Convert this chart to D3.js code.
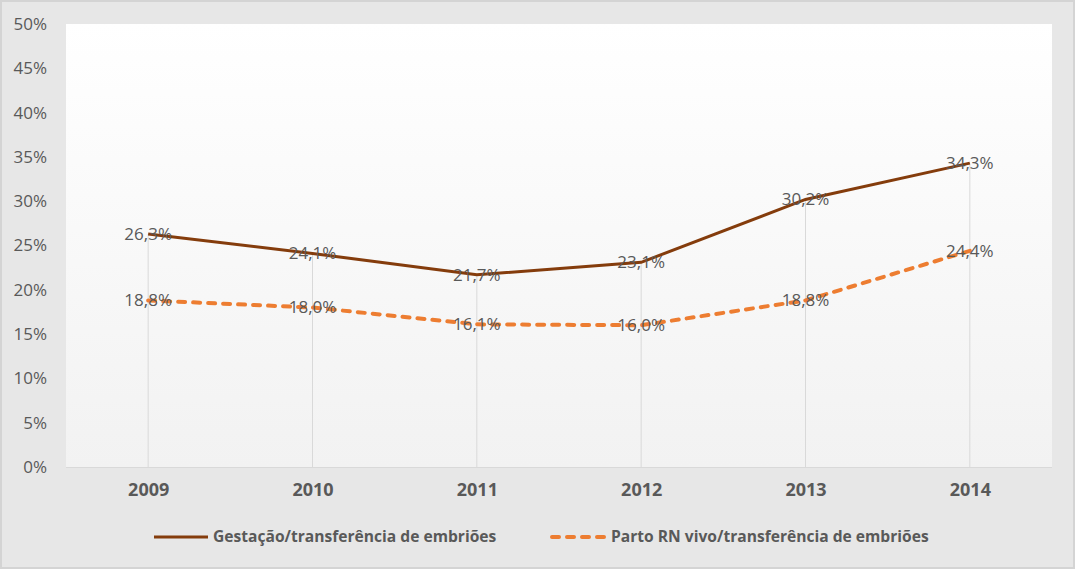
<!DOCTYPE html>
<html><head><meta charset="utf-8">
<script src="https://cdn.jsdelivr.net/npm/d3@7"></script>
<style>
html,body{margin:0;padding:0;background:#fff;}
svg{display:block;font-family:"Open Sans","Noto Sans",sans-serif;}
</style></head>
<body>
<svg id="c" width="1075" height="569"></svg>
<script>
const years = ["2009","2010","2011","2012","2013","2014"];
const gestacao = [26.3, 24.1, 21.7, 23.1, 30.2, 34.3];
const parto = [18.8, 18.0, 16.1, 16.0, 18.8, 24.4];
const yTicks = [0,5,10,15,20,25,30,35,40,45,50];
const seriesNames = ["Gestação/transferência de embriões","Parto RN vivo/transferência de embriões"];

const W=1075,H=569;
const FONT="'Open Sans','Noto Sans',sans-serif";
const svg=d3.select("#c");
const m={left:66,right:1052,top:24,bottom:467};
const fmt=v=>v.toFixed(1).replace(".",",")+"%";

svg.append("rect").attr("x",1).attr("y",1).attr("width",W-2).attr("height",H-2)
  .attr("fill","#e7e7e7").attr("stroke","#d4d4d4").attr("stroke-width",2);

const defs=svg.append("defs");
const g=defs.append("linearGradient").attr("id","pg").attr("x1",0).attr("y1",0).attr("x2",0).attr("y2",1);
g.append("stop").attr("offset","0").attr("stop-color","#ffffff");
g.append("stop").attr("offset","1").attr("stop-color","#f2f2f2");

const x=d3.scalePoint().domain(years).range([m.left,m.right]).padding(0.5);
const y=d3.scaleLinear().domain([0,50]).range([m.bottom,m.top]);

svg.append("rect").attr("x",m.left).attr("y",m.top).attr("width",m.right-m.left).attr("height",m.bottom-m.top).attr("fill","url(#pg)");

// drop lines
svg.append("g").selectAll("line").data(years).join("line")
  .attr("x1",d=>x(d)).attr("x2",d=>x(d))
  .attr("y1",(d,i)=>y(gestacao[i])).attr("y2",m.bottom)
  .attr("stroke","#d9d9d9").attr("stroke-width",1);

// x axis line
svg.append("line").attr("x1",m.left).attr("x2",m.right).attr("y1",m.bottom+0.5).attr("y2",m.bottom+0.5)
  .attr("stroke","#d9d9d9").attr("stroke-width",1);

// y axis
const ya=svg.append("g").attr("transform",`translate(${m.left},0)`)
  .call(d3.axisLeft(y).tickValues(yTicks).tickFormat(d=>d+"%").tickSize(0).tickPadding(19));
ya.attr("font-family",FONT);
ya.select(".domain").remove();
ya.selectAll("text").attr("font-size",17).attr("fill","#595959");

// x axis
const xa=svg.append("g").attr("transform",`translate(0,${m.bottom})`)
  .call(d3.axisBottom(x).tickSize(0).tickPadding(16));
xa.attr("font-family",FONT);
xa.select(".domain").remove();
xa.selectAll("text").attr("font-size",18).attr("font-weight","bold").attr("fill","#595959");

const line=d3.line().x((d,i)=>x(years[i])).y(d=>y(d));
svg.append("path").datum(parto).attr("d",line).attr("fill","none")
  .attr("stroke","#ed7d31").attr("stroke-width",4).attr("stroke-dasharray","7,8").attr("stroke-linecap","round");
svg.append("path").datum(gestacao).attr("d",line).attr("fill","none")
  .attr("stroke","#843c0c").attr("stroke-width",3);

function labels(data){
  svg.append("g").selectAll("text").data(data).join("text")
    .attr("x",(d,i)=>x(years[i])).attr("y",d=>y(d)).attr("dy","0.35em")
    .attr("text-anchor","middle").attr("font-size",17).attr("fill","#595959").text(fmt);
}
labels(gestacao); labels(parto);

// legend
const leg=[{x:154,name:seriesNames[0],c:"#843c0c",dash:null,w:3},{x:552,name:seriesNames[1],c:"#ed7d31",dash:"7,8",w:4}];
leg.forEach(l=>{
  svg.append("line").attr("x1",l.x).attr("x2",l.x+54).attr("y1",537).attr("y2",537)
    .attr("stroke",l.c).attr("stroke-width",l.w).attr("stroke-dasharray",l.dash).attr("stroke-linecap",l.dash?"round":"butt");
  svg.append("text").attr("x",l.x+59).attr("y",537).attr("dy","0.35em").attr("font-size",15.6)
    .attr("font-weight","bold").attr("fill","#595959").text(l.name);
});
</script>
</body></html>
